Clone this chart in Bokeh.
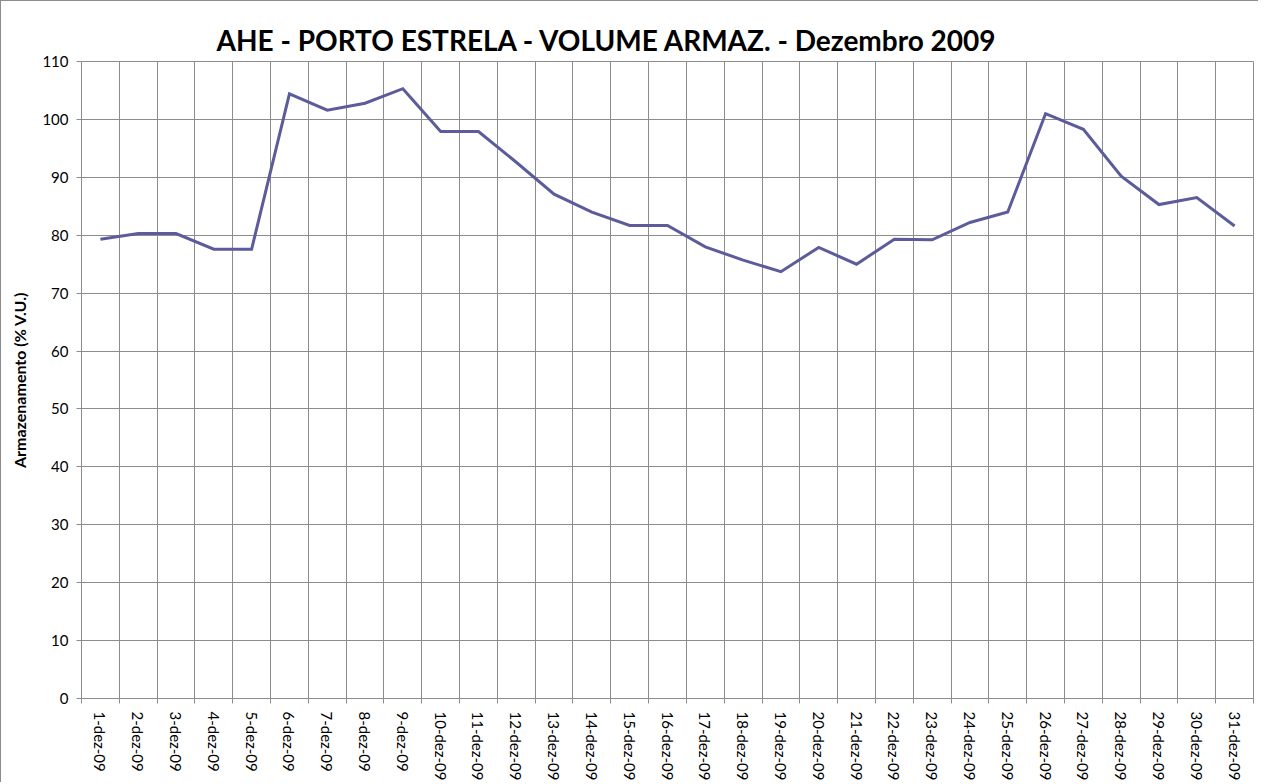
from bokeh.plotting import figure
from bokeh.models import Range1d, FixedTicker
from bokeh.embed import file_html
from bokeh.resources import INLINE

# ---- data ----
days = list(range(1, 32))
day_labels = [f"{d}-dez-09" for d in days]
volume = [79.3, 80.3, 80.3, 77.6, 77.6, 104.4, 101.6, 102.8, 105.3, 97.9,
          97.9, 92.6, 87.1, 84.0, 81.7, 81.7, 78.0, 75.7, 73.7, 77.9,
          75.0, 79.3, 79.2, 82.2, 84.0, 101.0, 98.3, 90.2, 85.3, 86.5, 81.6]
y_ticks = list(range(0, 111, 10))
title_text = "AHE - PORTO ESTRELA - VOLUME ARMAZ. - Dezembro 2009"
y_label = "Armazenamento (% V.U.)"

boundaries = [d - 0.5 for d in days] + [days[-1] + 0.5]

FONT = "Lato"
GRID = "#8c8c8c"

p = figure(width=1258, height=782, output_backend="svg", toolbar_location=None,
           x_range=Range1d(days[0] - 0.5, days[-1] + 0.5),
           y_range=Range1d(0, 110),
           min_border_left=80, min_border_right=6, min_border_top=60,
           min_border_bottom=84)

p.line(days, volume, line_color="#5c5c9c", line_width=3, line_join="miter")

# title
p.title.text = title_text
p.title.align = "left"
p.title.offset = 135
p.title.text_font = FONT
p.title.text_font_size = "28px"
p.title.text_font_style = "bold"
p.title.text_color = "black"
p.title.standoff = 10

# x axis
xa = p.xaxis[0]
xa.ticker = FixedTicker(ticks=days, minor_ticks=boundaries)
xa.major_label_overrides = {d: lab for d, lab in zip(days, day_labels)}
xa.major_label_orientation = -1.5707963
xa.major_tick_out = 0
xa.major_tick_in = 0
xa.minor_tick_out = 5
xa.minor_tick_in = 0
xa.minor_tick_line_color = GRID
xa.axis_line_color = GRID
xa.major_label_standoff = 8
xa.major_label_text_font = FONT
xa.major_label_text_font_size = "15px"
xa.major_label_text_color = "black"

# y axis
ya = p.yaxis[0]
ya.ticker = FixedTicker(ticks=y_ticks)
ya.major_tick_out = 5
ya.major_tick_in = 0
ya.minor_tick_line_color = None
ya.major_tick_line_color = GRID
ya.axis_line_color = GRID
ya.major_label_standoff = 8
ya.major_label_text_font = FONT
ya.major_label_text_font_size = "15px"
ya.major_label_text_color = "black"
ya.axis_label = y_label
ya.axis_label_text_font = FONT
ya.axis_label_text_font_size = "16px"
ya.axis_label_text_font_style = "bold"
ya.axis_label_text_color = "black"
ya.axis_label_standoff = 10

# grids
p.xgrid.ticker = FixedTicker(ticks=boundaries)
p.xgrid.grid_line_color = GRID
p.ygrid.ticker = FixedTicker(ticks=y_ticks)
p.ygrid.grid_line_color = GRID
p.outline_line_color = GRID
p.background_fill_color = "white"
p.border_fill_color = "white"
p.styles = {"border-left": "1px solid #8c8c8c", "border-top": "1px solid #8c8c8c"}

open("out.html", "w").write(file_html(p, INLINE))
